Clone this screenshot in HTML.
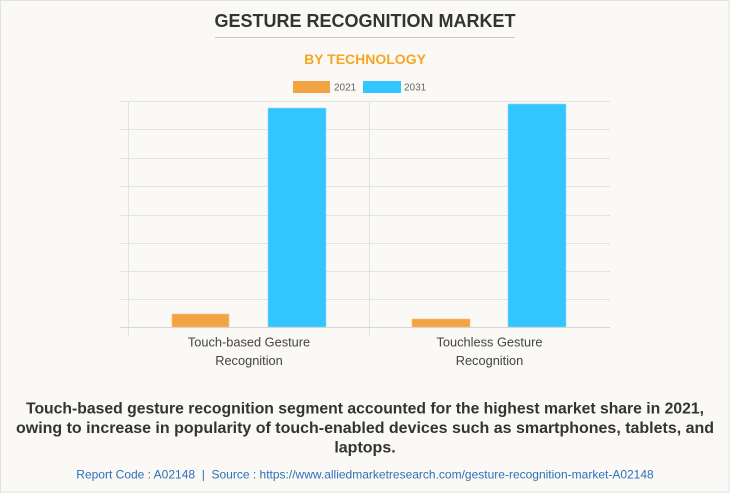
<!DOCTYPE html>
<html><head><meta charset="utf-8"><style>
html,body{margin:0;padding:0;}
body{width:730px;height:493px;overflow:hidden;background:#faf9f5;font-family:"Liberation Sans",Arial,sans-serif;}
</style></head><body>
<svg width="730" height="493" viewBox="0 0 730 493" xmlns="http://www.w3.org/2000/svg" style="display:block">
<rect x="0" y="0" width="730" height="493" fill="#faf9f5"/>
<rect x="0.5" y="0.5" width="728.5" height="491.5" fill="none" stroke="#e2e2e2" stroke-width="1"/>
<text x="365" y="27" text-anchor="middle" font-family="Liberation Sans, Arial, sans-serif" font-weight="bold" font-size="18" fill="#333">GESTURE RECOGNITION MARKET</text>
<line x1="215" y1="37.5" x2="515" y2="37.5" stroke="#c8c8c8" stroke-width="1"/>
<text x="365" y="64" text-anchor="middle" font-family="Liberation Sans, Arial, sans-serif" font-weight="bold" font-size="14" fill="#f5a623">BY TECHNOLOGY</text>
<rect x="293" y="81" width="37" height="12" fill="#f2a444"/>
<text x="334" y="90.5" font-family="Liberation Sans, Arial, sans-serif" font-size="10" fill="#666">2021</text>
<rect x="363" y="81" width="38" height="12" fill="#33c5ff"/>
<text x="404" y="90.5" font-family="Liberation Sans, Arial, sans-serif" font-size="10" fill="#666">2031</text>
<g stroke="#e3e3e0" stroke-width="1">
<line x1="120" y1="101.5" x2="610" y2="101.5"/>
<line x1="120" y1="129.5" x2="610" y2="129.5"/>
<line x1="120" y1="158.5" x2="610" y2="158.5"/>
<line x1="120" y1="186.5" x2="610" y2="186.5"/>
<line x1="120" y1="215.5" x2="610" y2="215.5"/>
<line x1="120" y1="243.5" x2="610" y2="243.5"/>
<line x1="120" y1="271.5" x2="610" y2="271.5"/>
<line x1="120" y1="299.5" x2="610" y2="299.5"/>
<line x1="128.5" y1="101" x2="128.5" y2="336"/>
<line x1="369.5" y1="101" x2="369.5" y2="336"/>
</g>
<line x1="120" y1="327.5" x2="610" y2="327.5" stroke="#d6d6d6" stroke-width="1"/>
<rect x="172" y="314" width="57" height="13" fill="#f2a444" stroke="#f7c385" stroke-width="0.6"/>
<rect x="268" y="108" width="58" height="219" fill="#33c5ff" stroke="#8fdcff" stroke-width="0.6"/>
<rect x="412" y="319" width="58" height="8" fill="#f2a444" stroke="#f7c385" stroke-width="0.6"/>
<rect x="508" y="104" width="58" height="223" fill="#33c5ff" stroke="#8fdcff" stroke-width="0.6"/>
<g font-family="Liberation Sans, Arial, sans-serif" font-size="12.8" fill="#444" text-anchor="middle">
<text x="249" y="346.5">Touch-based Gesture</text>
<text x="249" y="365">Recognition</text>
<text x="489.5" y="346.5">Touchless Gesture</text>
<text x="489.5" y="365">Recognition</text>
</g>
<g font-family="Liberation Sans, Arial, sans-serif" font-size="16" font-weight="bold" fill="#333">
<text x="26" y="413.5" textLength="678" lengthAdjust="spacingAndGlyphs">Touch-based gesture recognition segment accounted for the highest market share in 2021,</text>
<text x="16" y="433" textLength="698" lengthAdjust="spacingAndGlyphs">owing to increase in popularity of touch-enabled devices such as smartphones, tablets, and</text>
<text x="365" y="452.5" text-anchor="middle">laptops.</text>
</g>
<text x="365" y="478.5" text-anchor="middle" font-family="Liberation Sans, Arial, sans-serif" font-size="12" fill="#2d6fba">Report Code : A02148&#160;&#160;|&#160;&#160;Source : https://www.alliedmarketresearch.com/gesture-recognition-market-A02148</text>
</svg>
</body></html>
